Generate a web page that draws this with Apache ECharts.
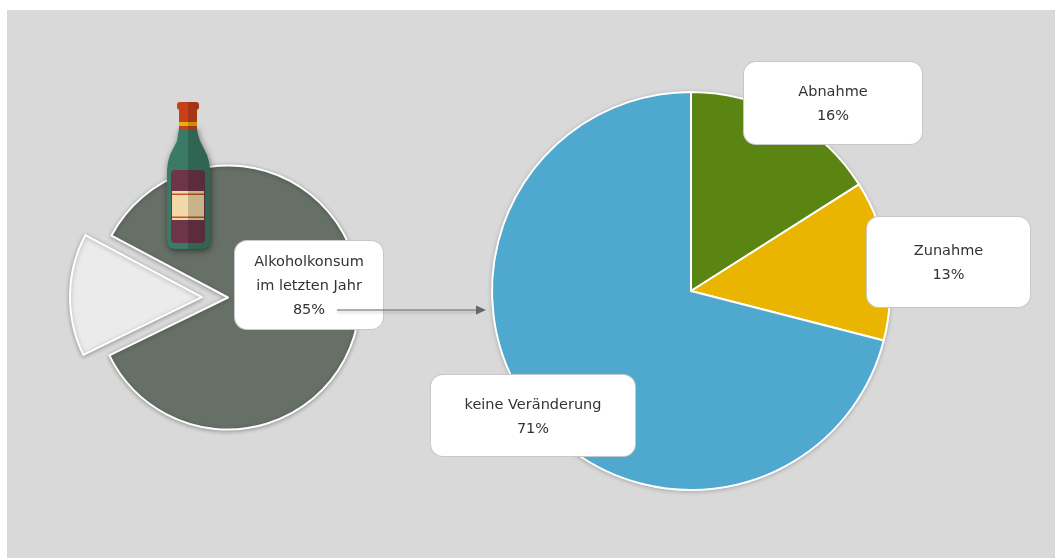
<!DOCTYPE html>
<html><head><meta charset="utf-8">
<style>html,body{margin:0;padding:0;background:#fff}#c{width:1055px;height:558px}</style>
<script src="https://cdn.jsdelivr.net/npm/echarts@6/dist/echarts.min.js"></script>
</head><body><div id="c"></div>
<script>
const consumptionNames = ['Alkoholkonsum\nim letzten Jahr', 'kein Alkoholkonsum'];
const consumptionValues = [85, 15];
const changeNames = ['Abnahme', 'Zunahme', 'keine Veränderung'];
const changeValues = [16, 13, 71];

const font = 'DejaVu Sans';
function box(w, h, lines, nudge) {
  const pad = (h - lines * 24) / 2;
  return {
    show: true, position: 'inside', formatter: p => p.name + '\n' + p.value + '%',
    color: '#333', fontFamily: font, fontSize: 14.5, lineHeight: 24, align: 'center', verticalAlign: 'top',
    backgroundColor: '#fff', borderColor: '#c8c8c8', borderWidth: 1, borderRadius: 12,
    width: w, height: lines * 24, padding: [pad + nudge, 0, pad - nudge, 0]
  };
}
const leftPlace = [{x: 309, y: 241}];
const rightPlace = [{x: 833, y: 62}, {x: 948.5, y: 217}, {x: 533, y: 375}];
const layoutFrom = places => p => places[p.dataIndex] ? ({x: places[p.dataIndex].x, y: places[p.dataIndex].y, align: 'center', verticalAlign: 'top', moveOverlap: false, hideOverlap: false}) : {};
const leftStyle = c => ({color: c, borderColor: '#fff', borderWidth: 2, shadowBlur: 4, shadowColor: 'rgba(0,0,0,0.28)', shadowOffsetX: 0, shadowOffsetY: 1, opacity: 1});
const rightStyle = c => ({color: c, borderColor: '#fff', borderWidth: 2, opacity: 1});

const bottleBody = [[179,128],[197,128],[198,135],[200,141],[203,147],[207,155],[209,162],[210,170],[210,241],[209,245],[206,248],[202,249],[175,249],[171,248],[168,245],[167,241],[167,170],[168,162],[170,155],[174,147],[177,141],[178,135]];
const bottleShade = [[188,102],[197,102],[199,104],[199,108],[197,110],[197,128],[198,135],[200,141],[203,147],[207,155],[209,162],[210,170],[210,241],[209,245],[206,248],[202,249],[188,249]];

const chart = echarts.init(document.getElementById('c'), null, {renderer: 'canvas'});
const leftColors = ['#667067', '#ebebeb'];
const rightColors = ['#5b8512', '#e9b500', '#4fa8cd'];
chart.setOption({
  animation: false,
  tooltip: {show: false},
  series: [
    {
      type: 'pie', center: [228, 297.5], radius: [0, 132], startAngle: 152, clockwise: true,
      selectedMode: 'single', selectedOffset: 26, avoidLabelOverlap: false, silent: true,
      labelLine: {show: false}, labelLayout: layoutFrom(leftPlace),
      data: consumptionNames.map((n, i) => ({
        name: n, value: consumptionValues[i], selected: i === 1,
        itemStyle: leftStyle(leftColors[i]),
        select: {itemStyle: leftStyle(leftColors[i])},
        label: i === 0 ? box(148, 88, 3, 1) : {show: false}
      }))
    },
    {
      type: 'pie', center: [691, 291], radius: [0, 199], startAngle: 90, clockwise: true,
      avoidLabelOverlap: false, silent: true,
      labelLine: {show: false}, labelLayout: layoutFrom(rightPlace),
      data: changeNames.map((n, i) => ({
        name: n, value: changeValues[i],
        itemStyle: rightStyle(rightColors[i]),
        label: box([178, 163, 204][i], [82, 90, 81][i], 2, [1, 1, 1.5][i])
      }))
    }
  ],
  graphic: [
    {type: 'rect', z: -10, silent: true, shape: {x: 7, y: 10, width: 1048, height: 548}, style: {fill: '#d9d9d9'}},
    {type: 'circle', z: 1, silent: true, shape: {cx: 691, cy: 291, r: 199}, style: {fill: '#fff', shadowBlur: 5, shadowColor: 'rgba(0,0,0,0.35)', shadowOffsetY: 1}},
    {type: 'line', z: 200, silent: true, shape: {x1: 337, y1: 310, x2: 480, y2: 310},
      style: {stroke: '#666', lineWidth: 1, shadowBlur: 3, shadowColor: 'rgba(0,0,0,0.3)', shadowOffsetY: 2}},
    {type: 'polygon', z: 200, silent: true, shape: {points: [[476, 305.5], [486, 310], [476, 314.5]]}, style: {fill: '#666'}},
    {type: 'polygon', z: 150, silent: true, shape: {points: bottleBody},
      style: {fill: '#3a7a66', shadowBlur: 6, shadowColor: 'rgba(0,0,0,0.5)', shadowOffsetX: 1, shadowOffsetY: 2}},
    {type: 'rect', z: 151, silent: true, shape: {x: 179, y: 110, width: 18, height: 20}, style: {fill: '#c8401a'}},
    {type: 'rect', z: 152, silent: true, shape: {x: 179, y: 122, width: 18, height: 4}, style: {fill: '#e8b10c'}},
    {type: 'rect', z: 152, silent: true, shape: {x: 177, y: 102, width: 22, height: 8, r: 3}, style: {fill: '#c8401a'}},
    {type: 'rect', z: 152, silent: true, shape: {x: 171, y: 170, width: 34, height: 73, r: 4}, style: {fill: '#6e3548'}},
    {type: 'rect', z: 153, silent: true, shape: {x: 172, y: 191, width: 32, height: 29}, style: {fill: '#f2d8a8'}},
    {type: 'rect', z: 154, silent: true, shape: {x: 172, y: 193.5, width: 32, height: 1.5}, style: {fill: '#c9502c'}},
    {type: 'rect', z: 154, silent: true, shape: {x: 172, y: 216.5, width: 32, height: 1.5}, style: {fill: '#c9502c'}},
    {type: 'polygon', z: 160, silent: true, shape: {points: bottleShade}, style: {fill: 'rgba(0,0,0,0.17)'}}
  ]
});
</script></body></html>
